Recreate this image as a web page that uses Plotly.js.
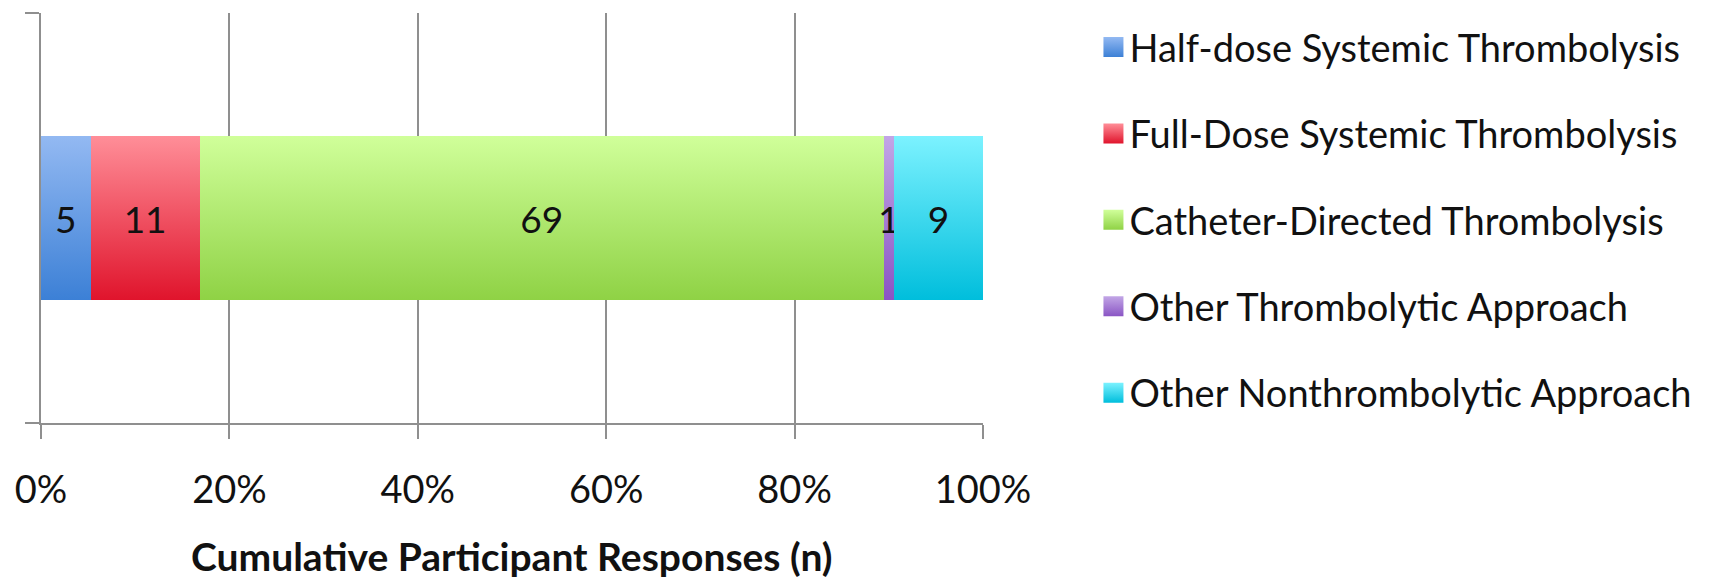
<!DOCTYPE html>
<html>
<head>
<meta charset="utf-8">
<script src="https://cdn.plot.ly/plotly-3.0.1.min.js"></script>
<style>
  html, body { margin: 0; padding: 0; background: #ffffff; }
  #chart { width: 1733px; height: 582px; }
</style>
</head>
<body>
<div id="chart"></div>
<script>
// ---- Data ----
const categories = ['Responses'];
const seriesNames = [
  'Half-dose Systemic Thrombolysis',
  'Full-Dose Systemic Thrombolysis',
  'Catheter-Directed Thrombolysis',
  'Other Thrombolytic Approach',
  'Other Nonthrombolytic Approach'
];
const seriesValues = [5, 11, 69, 1, 9];
const tickValues = [0, 20, 40, 60, 80, 100];
const tickLabels = ['0%', '20%', '40%', '60%', '80%', '100%'];
const axisTitle = 'Cumulative Participant Responses (n)';

// ---- Styles ----
const topColors    = ['#93b9f2', '#ff8e98', '#d0ff9a', '#c2a6e6', '#7cf2ff'];
const bottomColors = ['#3c80d6', '#e0142c', '#8fd245', '#8a55c4', '#00bedc'];
const midColors    = ['#6a9ee6', '#f05262', '#b2ea72', '#a67ed6', '#3ed8ee'];
const FONT = 'Lato, "Open Sans", "DejaVu Sans", sans-serif';
const GRID = '#8f8f8f';
const TXT = '#111111';

const traces = seriesNames.map((name, i) => ({
  type: 'bar',
  orientation: 'h',
  name: name,
  y: [0],
  x: [seriesValues[i]],
  text: [String(seriesValues[i])],
  textposition: 'inside',
  insidetextanchor: 'middle',
  textfont: { family: FONT, size: 37, color: TXT },
  marker: { color: midColors[i], line: { width: 0 } },
  legendgroup: 'g' + i,
  hoverinfo: 'none'
}));

const layout = {
  width: 1733,
  height: 582,
  paper_bgcolor: '#ffffff',
  plot_bgcolor: '#ffffff',
  margin: { l: 41, r: 750, t: 13, b: 159, pad: 0 },
  barmode: 'stack',
  barnorm: 'percent',
  bargap: 0.6,
  uniformtext: { mode: 'show', minsize: 37 },
  font: { family: FONT, color: TXT },
  showlegend: true,
  legend: {
    x: 1.113, xanchor: 'left',
    y: 0.993, yanchor: 'top',
    font: { family: FONT, size: 38, color: TXT },
    traceorder: 'grouped',
    tracegroupgap: 34,
    bgcolor: 'rgba(0,0,0,0)',
    borderwidth: 0
  },
  annotations: [{
    text: axisTitle,
    xref: 'paper', yref: 'paper',
    x: 0.5, y: -0.383,
    xanchor: 'center', yanchor: 'bottom',
    showarrow: false,
    borderpad: 0,
    font: { family: FONT, size: 39, color: TXT, weight: 'bold' }
  }],
  xaxis: {
    range: [0, 100],
    tickmode: 'array',
    tickvals: tickValues,
    ticktext: tickLabels,
    ticks: 'outside',
    ticklen: 14,
    tickwidth: 2,
    tickcolor: GRID,
    ticklabelstandoff: 18,
    showgrid: true,
    gridcolor: GRID,
    gridwidth: 2,
    showline: true,
    linecolor: GRID,
    linewidth: 2,
    zeroline: false,
    tickfont: { family: FONT, size: 38, color: TXT },
    automargin: false,
    fixedrange: true
  },
  yaxis: {
    range: [-0.5, 0.5],
    tickmode: 'array',
    tickvals: [-0.5, 0.5],
    showticklabels: false,
    ticks: 'outside',
    ticklen: 14,
    tickwidth: 2,
    tickcolor: GRID,
    showgrid: false,
    zeroline: false,
    showline: true,
    linecolor: GRID,
    linewidth: 2,
    automargin: false,
    fixedrange: true
  }
};

function addGradients(gd) {
  const ns = 'http://www.w3.org/2000/svg';
  const svg = gd.querySelector('.main-svg');
  let defs = svg.querySelector('defs');
  if (!defs) { defs = document.createElementNS(ns, 'defs'); svg.insertBefore(defs, svg.firstChild); }
  topColors.forEach((c, i) => {
    const lg = document.createElementNS(ns, 'linearGradient');
    lg.setAttribute('id', 'barGrad' + i);
    lg.setAttribute('x1', '0'); lg.setAttribute('y1', '0');
    lg.setAttribute('x2', '0'); lg.setAttribute('y2', '1');
    const s1 = document.createElementNS(ns, 'stop');
    s1.setAttribute('offset', '0'); s1.setAttribute('stop-color', c);
    const s2 = document.createElementNS(ns, 'stop');
    s2.setAttribute('offset', '1'); s2.setAttribute('stop-color', bottomColors[i]);
    lg.appendChild(s1); lg.appendChild(s2);
    defs.appendChild(lg);
  });
  gd.querySelectorAll('.barlayer .trace').forEach((t, i) => {
    t.querySelectorAll('.point path').forEach(p => { p.style.fill = 'url(#barGrad' + i + ')'; });
  });
  gd.querySelectorAll('.legend .traces').forEach((t, i) => {
    t.querySelectorAll('.legendpoints path').forEach(p => {
      p.style.fill = 'url(#barGrad' + i + ')';
      p.style.stroke = 'none';
      p.setAttribute('d', 'M-6,-10H14V10H-6Z');
    });
  });
}

Plotly.newPlot('chart', traces, layout, { staticPlot: true, displayModeBar: false })
  .then(addGradients);
</script>
</body>
</html>
